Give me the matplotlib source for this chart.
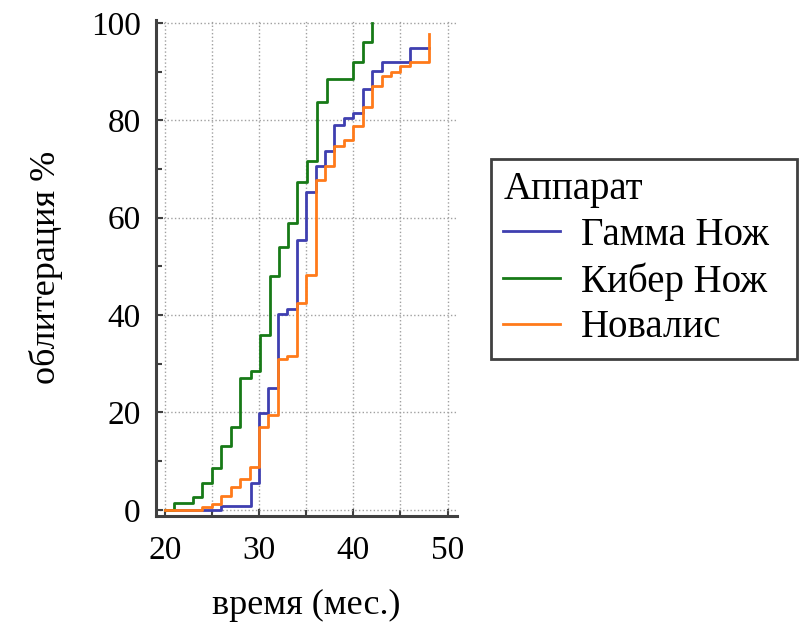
import numpy as np
import matplotlib.pyplot as plt
from matplotlib.ticker import MultipleLocator

plt.rcParams['font.family'] = ['Liberation Serif', 'DejaVu Serif']

# данные (месяцы, % облитерации)
gamma_t = [20, 26, 29.2, 30, 31, 32, 33, 34, 35, 36, 37, 38, 39, 40, 41, 42, 43, 46, 48]
gamma_y = [0, 0.8, 5.4, 19.8, 25, 40.2, 41.2, 55.5, 65.2, 70.6, 73.7, 79, 80.4, 81.6, 86.4, 90.2, 92, 94.8, 94.8]

cyber_t = [20, 21, 23, 24, 25, 26, 27, 28, 29.2, 30.1, 31.2, 32.1, 33.1, 34, 35.1, 36.1, 37.2, 40, 41, 42]
cyber_y = [0, 1.3, 2.7, 5.5, 8.5, 13, 17, 27, 28.5, 36, 48, 54, 59, 67.4, 71.6, 83.7, 88.5, 92, 96, 100]

noval_t = [20, 24, 25, 26, 27, 28, 29, 30, 31, 32, 33, 34, 35, 36, 37, 38, 39, 40, 41, 42, 43, 44, 45, 46, 48]
noval_y = [0, 0.6, 1.2, 2.9, 4.6, 6.4, 8.7, 17, 19.4, 30.9, 31.5, 42.5, 48.2, 67.8, 70.6, 74.7, 76, 78.8, 82.8, 87, 89.1, 90, 91.1, 92, 97.7]

labels = ['Гамма Нож', 'Кибер Нож', 'Новалис']
colors = ['#3f3fb0', '#177a17', '#ff7a1a']

fig = plt.figure(figsize=(7.99, 6.25), dpi=100)
ax = fig.add_axes([0.195, 0.175, 0.377, 0.793])

for t, y, lab, c in zip([gamma_t, cyber_t, noval_t], [gamma_y, cyber_y, noval_y], labels, colors):
    ax.step(t, y, where='post', color=c, lw=2.0, label=lab)

ax.set_xlim(19.05, 51.0)
ax.set_ylim(-1.2, 100.6)
ax.xaxis.set_major_locator(MultipleLocator(10))
ax.xaxis.set_minor_locator(MultipleLocator(5))
ax.yaxis.set_major_locator(MultipleLocator(20))
ax.yaxis.set_minor_locator(MultipleLocator(10))

ax.grid(axis='x', which='both', ls=':', color='#a0a0a0', lw=1.0)
ax.grid(axis='y', which='major', ls=':', color='#a0a0a0', lw=1.0)

for s in ['top', 'right']:
    ax.spines[s].set_visible(False)
for s in ['left', 'bottom']:
    ax.spines[s].set_color('#404040')
    ax.spines[s].set_linewidth(2.2)

ax.tick_params(which='both', direction='in', color='#404040', width=1.5, labelsize=24)
ax.tick_params(which='major', length=5)
ax.tick_params(which='minor', length=4)
ax.tick_params(axis='y', pad=11)
ax.tick_params(axis='x', pad=14)

ax.set_xlabel('время (мес.)', fontsize=26, labelpad=17)
ax.set_ylabel('облитерация %', fontsize=26, labelpad=20)

leg = fig.legend(loc='center left', bbox_to_anchor=(0.6145, 0.586, 0.383, 0.0), mode='expand',
                 title='Аппарат', fontsize=28, title_fontsize=28, alignment='left',
                 fancybox=False, edgecolor='#404040', framealpha=1, handlelength=1.45,
                 handletextpad=0.55, borderpad=0.32, labelspacing=0.22, borderaxespad=0)
leg.get_frame().set_linewidth(2)

fig.savefig('out.png', dpi=100)
